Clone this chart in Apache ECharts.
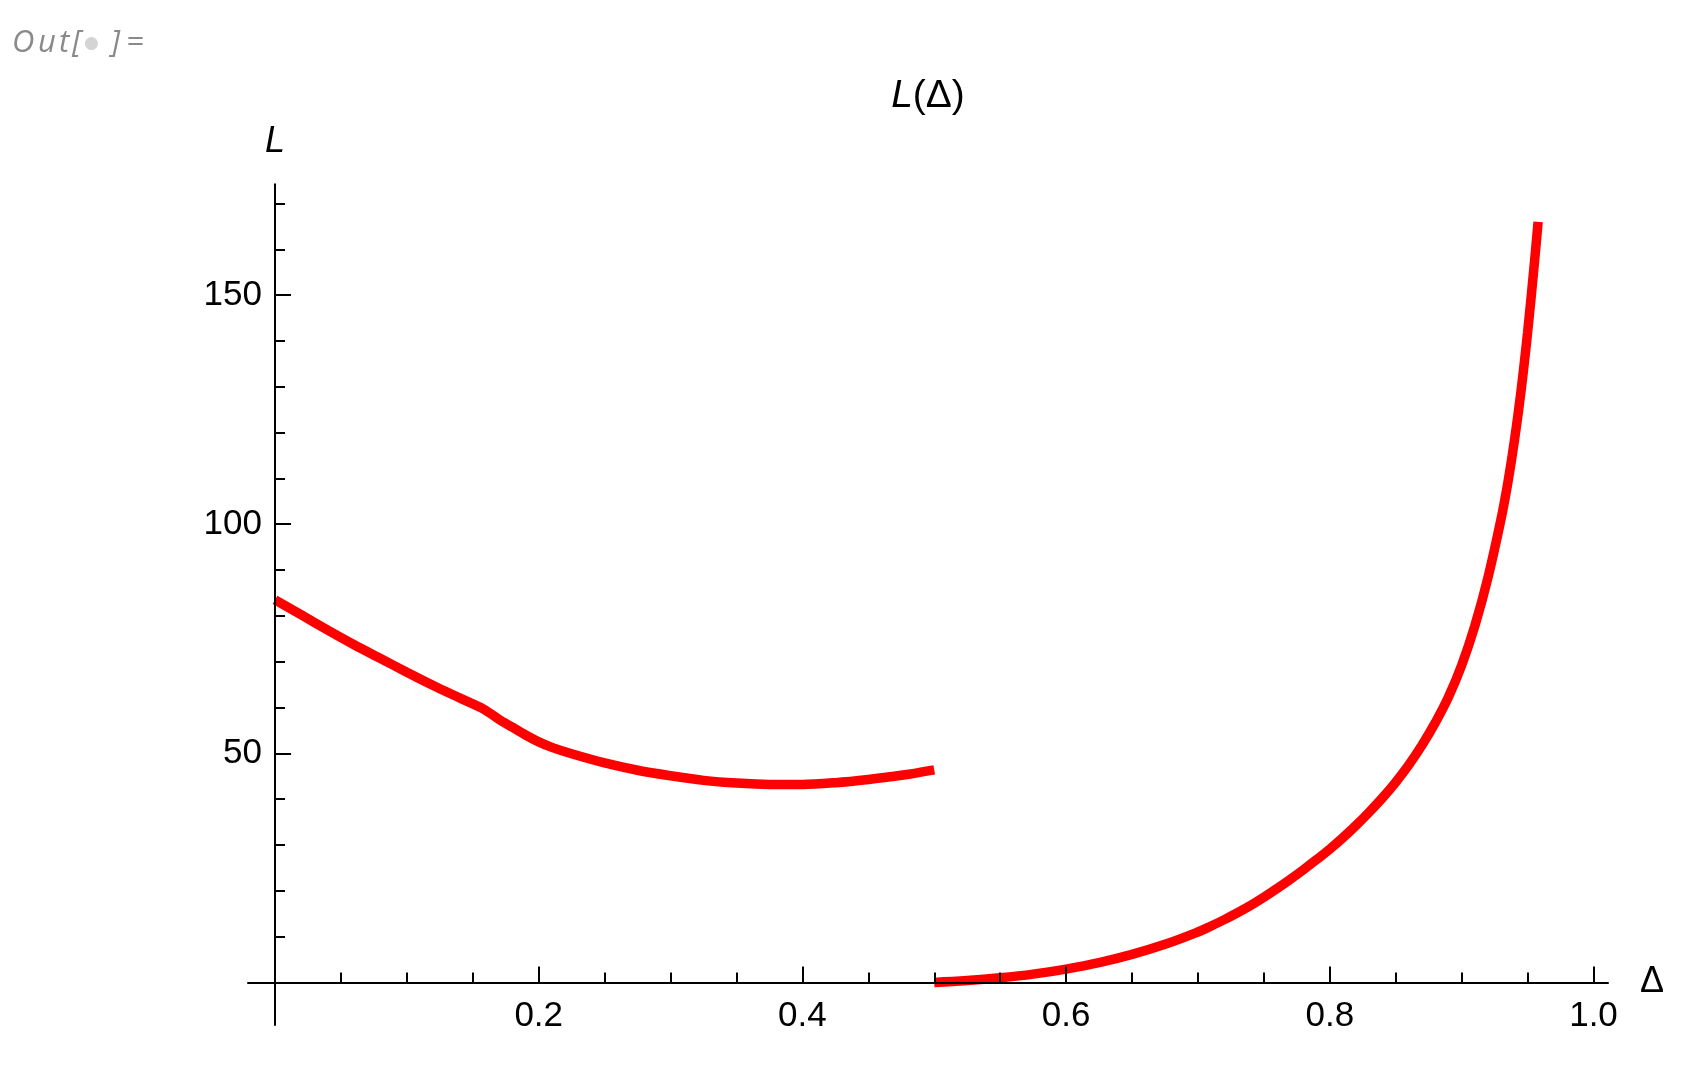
<!DOCTYPE html>
<html>
<head>
<meta charset="utf-8">
<script src="https://cdn.jsdelivr.net/npm/echarts@6/dist/echarts.min.js"></script>
<style>
  html, body { margin: 0; padding: 0; background: #ffffff; }
  #chart { width: 1686px; height: 1075px; }
</style>
</head>
<body>
<div id="chart"></div>
<script>
// ---- data ----
const delta1 = [0, 0.02, 0.04, 0.06, 0.08, 0.10, 0.12, 0.14, 0.1585, 0.17, 0.18, 0.19, 0.20, 0.21, 0.225, 0.25, 0.275, 0.30, 0.325, 0.35, 0.375, 0.40, 0.425, 0.45, 0.475, 0.50];
const L1     = [83.5, 80.2, 76.9, 73.7, 70.7, 67.7, 64.8, 62.1, 59.6, 57.4, 55.7, 54.0, 52.5, 51.3, 49.9, 47.9, 46.3, 45.1, 44.1, 43.5, 43.2, 43.2, 43.6, 44.3, 45.2, 46.4];

const delta2 = [0.5, 0.525, 0.55, 0.575, 0.60, 0.625, 0.65, 0.675, 0.70, 0.71, 0.72, 0.73, 0.74, 0.75, 0.76, 0.77, 0.78, 0.79, 0.80, 0.81, 0.82, 0.83, 0.84, 0.85, 0.86, 0.87, 0.88, 0.89, 0.90, 0.91, 0.92, 0.93, 0.935, 0.94, 0.945, 0.95, 0.955, 0.958];
const L2     = [0, 0.4, 1.0, 1.8, 2.9, 4.3, 6.1, 8.3, 11.0, 12.3, 13.7, 15.2, 16.8, 18.6, 20.5, 22.5, 24.6, 26.8, 29.1, 31.6, 34.3, 37.2, 40.3, 43.7, 47.5, 51.8, 56.7, 62.3, 69.2, 77.8, 88.4, 101.3, 109.0, 118.2, 129.0, 141.8, 156.5, 166.0];

const xMajorTicks = [0.2, 0.4, 0.6, 0.8, 1.0];
const xMinorTicks = [0.05, 0.1, 0.15, 0.25, 0.3, 0.35, 0.45, 0.5, 0.55, 0.65, 0.7, 0.75, 0.85, 0.9, 0.95];
const yMajorTicks = [50, 100, 150];
const yMinorTicks = [10, 20, 30, 40, 60, 70, 80, 90, 110, 120, 130, 140, 160, 170];

const xName = 'Δ';
const yName = 'L';

// ---- chart ----
const FONT = "'Liberation Sans', Arial, sans-serif";
const OUTFONT = "'Open Sans', 'Noto Sans', sans-serif";
const xMin = -0.0205, xMax = 1.011, yMin = -9.3, yMax = 174.2;

function pairs(xs, ys) { return xs.map((x, i) => [x, ys[i]]); }

const axisLineStyle = { color: '#000', width: 2 };

function xAxisBase(extra) {
  return Object.assign({
    type: 'value', gridIndex: 0, position: 'bottom', min: xMin, max: xMax, z: 5,
    splitLine: { show: false }
  }, extra);
}
function yAxisBase(extra) {
  return Object.assign({
    type: 'value', gridIndex: 0, position: 'left', min: yMin, max: yMax, z: 5,
    splitLine: { show: false }
  }, extra);
}
function outChar(ch, x) {
  return { type: 'text', x: x, y: 43, style: { text: ch, fontSize: 31, fontStyle: 'italic', fontFamily: OUTFONT, fill: '#8a8a8a', verticalAlign: 'middle' } };
}

const chart = echarts.init(document.getElementById('chart'), null, { renderer: 'canvas' });
chart.setOption({
  backgroundColor: '#ffffff',
  animation: false,
  grid: { left: 248, right: 78, top: 184.3, bottom: 50, containLabel: false, outerBoundsMode: 'none' },
  xAxis: [
    xAxisBase({
      axisLine: { show: true, onZero: true, onZeroAxisIndex: 0, lineStyle: axisLineStyle },
      axisTick: { show: true, inside: true, length: 16, lineStyle: { color: '#000', width: 2 }, customValues: xMajorTicks },
      axisLabel: { show: true, customValues: xMajorTicks, formatter: v => Number(v).toFixed(1),
                   fontSize: 35, color: '#000', margin: -26, fontFamily: FONT },
      name: xName, nameLocation: 'end', nameGap: 32,
      nameTextStyle: { fontSize: 36, color: '#000', fontFamily: FONT, align: 'left', verticalAlign: 'middle' }
    }),
    xAxisBase({
      axisLine: { show: false, onZero: true, onZeroAxisIndex: 0 },
      axisTick: { show: true, inside: true, length: 10, lineStyle: { color: '#000', width: 2 }, customValues: xMinorTicks },
      axisLabel: { show: false }
    })
  ],
  yAxis: [
    yAxisBase({
      axisLine: { show: true, onZero: true, onZeroAxisIndex: 0, lineStyle: axisLineStyle },
      axisTick: { show: true, inside: true, length: 16, lineStyle: { color: '#000', width: 2 }, customValues: yMajorTicks },
      axisLabel: { show: true, customValues: yMajorTicks, fontSize: 35, color: '#000', margin: -14, fontFamily: FONT },
      name: yName, nameLocation: 'end', nameGap: 24,
      nameTextStyle: { fontSize: 36, color: '#000', fontFamily: FONT, fontStyle: 'italic', align: 'center', verticalAlign: 'bottom' }
    }),
    yAxisBase({
      axisLine: { show: false, onZero: true, onZeroAxisIndex: 0 },
      axisTick: { show: true, inside: true, length: 10, lineStyle: { color: '#000', width: 2 }, customValues: yMinorTicks },
      axisLabel: { show: false }
    })
  ],
  graphic: [
    {
      type: 'text', x: 928, y: 96, z: 10,
      style: {
        text: '{i|L}{n|(Δ)}', align: 'center', verticalAlign: 'middle',
        rich: {
          i: { fontSize: 39, fontStyle: 'italic', fontFamily: FONT, fill: '#000' },
          n: { fontSize: 39, fontFamily: FONT, fill: '#000' }
        }
      }
    },
    outChar('O', 12), outChar('u', 38), outChar('t', 59), outChar('[', 72),
    { type: 'text', x: 91.5, y: 44, style: { text: '●', fontSize: 17, fontFamily: "'DejaVu Sans', sans-serif", fill: '#d4d4d4', align: 'center', verticalAlign: 'middle' } },
    outChar(']', 111), outChar('=', 126)
  ],
  series: [
    {
      name: 'branch 1', type: 'line', xAxisIndex: 0, yAxisIndex: 0,
      data: pairs(delta1, L1), showSymbol: false, smooth: 0.3,
      lineStyle: { color: '#ff0000', width: 9.5, cap: 'butt' }, z: 2, silent: true
    },
    {
      name: 'branch 2', type: 'line', xAxisIndex: 0, yAxisIndex: 0,
      data: pairs(delta2, L2), showSymbol: false, smooth: 0.4,
      lineStyle: { color: '#ff0000', width: 9.5, cap: 'butt' }, z: 2, silent: true
    }
  ]
});
</script>
</body>
</html>
